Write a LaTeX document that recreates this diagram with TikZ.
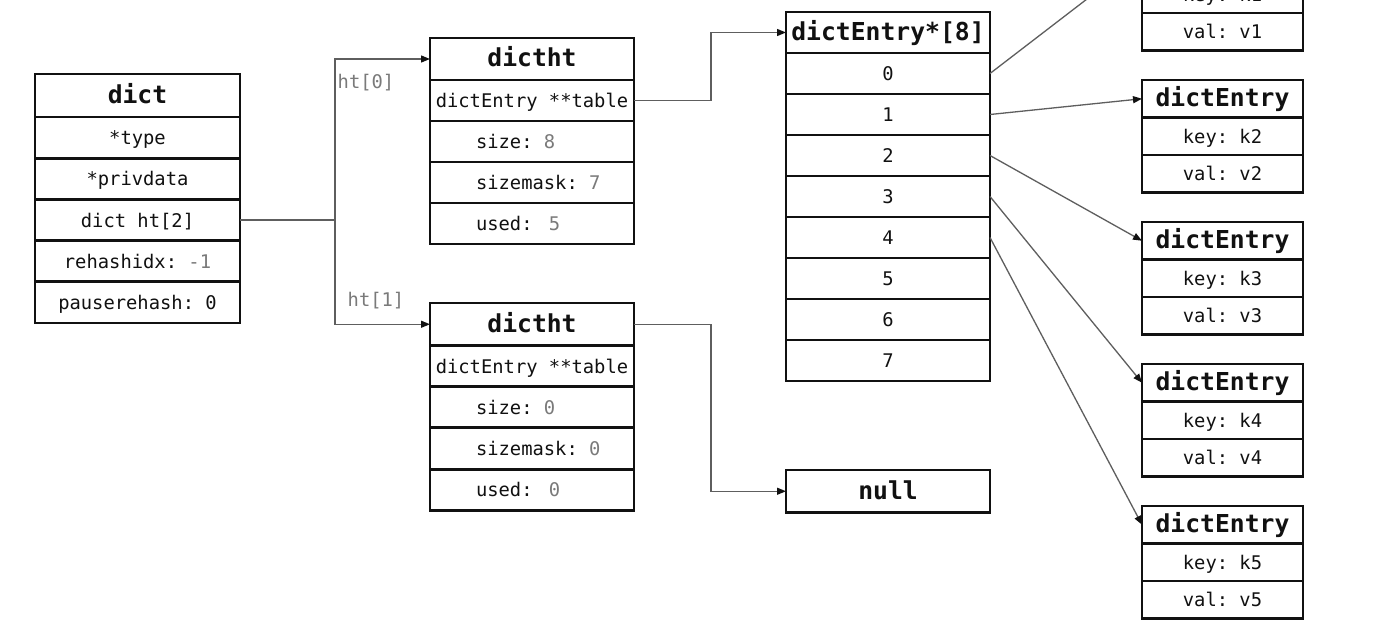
\documentclass[tikz,border=0pt]{standalone}
\usepackage{fontspec}
\setmonofont{DejaVu Sans Mono}
\usetikzlibrary{arrows.meta}
\definecolor{ink}{HTML}{111111}
\definecolor{valc}{HTML}{7A7A7A}
\definecolor{wire}{HTML}{5E5E5E}
\newcommand\dgRow{\ttfamily\fontsize{18.8pt}{22pt}\selectfont}
\newcommand\dgHead{\ttfamily\bfseries\fontsize{24.7pt}{28pt}\selectfont}
\newcommand\gv[1]{\textcolor{valc}{#1}}
\newcommand\lt[1]{\makebox[112pt][l]{#1}}
\begin{document}
\begin{tikzpicture}[x=1pt,y=-1pt,
  cell/.style={draw=ink, line width=2.9pt, inner sep=0pt, outer sep=0pt,
    anchor=north west, text=ink, font=\dgRow, text height=16pt, text depth=2pt},
  hcell/.style={cell, font=\dgHead, text height=18pt, text depth=2.5pt},
  wid/.style={minimum width=#1},
  hgt/.style={minimum height=#1},
  wire/.style={draw=wire, line width=1.3pt},
  arr/.style={wire, -{Triangle[length=9pt,width=7pt,color=ink]}},
  lbl/.style={font=\dgRow, text=valc, inner sep=0pt}
]
\useasboundingbox (0,0) rectangle (1377,626);
\clip (0,0) rectangle (1377,626);
\fill[white] (0,0) rectangle (1377,626);

% dict
\node[hcell, wid=205pt, hgt=43pt] (d0) at (35,74) {dict};
\node[cell, wid=205pt, hgt=41.2pt] (d1) at (d0.south west) {*type};
\node[cell, wid=205pt, hgt=41.2pt] (d2) at (d1.south west) {*privdata};
\node[cell, wid=205pt, hgt=41.2pt] (d3) at (d2.south west) {dict ht[2]};
\node[cell, wid=205pt, hgt=41.2pt] (d4) at (d3.south west) {rehashidx: \gv{-1}};
\node[cell, wid=205pt, hgt=41.2pt] (d5) at (d4.south west) {pauserehash: 0};

% dictht 0
\node[hcell, wid=204pt, hgt=42pt] (t0) at (430,38) {dictht};
\node[cell, wid=204pt, hgt=41pt] (t1) at (t0.south west) {dictEntry **table};
\node[cell, wid=204pt, hgt=41pt] (t2) at (t1.south west) {\lt{size: \gv{8}}};
\node[cell, wid=204pt, hgt=41pt] (t3) at (t2.south west) {\lt{sizemask: \gv{7}}};
\node[cell, wid=204pt, hgt=41pt] (t4) at (t3.south west) {\lt{used: \kern5pt\gv{5}}};

% dictht 1
\node[hcell, wid=204pt, hgt=42.5pt] (b0) at (430,303) {dictht};
\node[cell, wid=204pt, hgt=41.2pt] (b1) at (b0.south west) {dictEntry **table};
\node[cell, wid=204pt, hgt=41.2pt] (b2) at (b1.south west) {\lt{size: \gv{0}}};
\node[cell, wid=204pt, hgt=41.2pt] (b3) at (b2.south west) {\lt{sizemask: \gv{0}}};
\node[cell, wid=204pt, hgt=41.2pt] (b4) at (b3.south west) {\lt{used: \kern5pt\gv{0}}};

% dictEntry*[8]
\node[hcell, wid=204pt, hgt=41pt] (aT) at (786,12) {dictEntry*[8]};
\node[cell, wid=204pt, hgt=41pt] (a0) at (aT.south west) {0};
\node[cell, wid=204pt, hgt=41pt] (a1) at (a0.south west) {1};
\node[cell, wid=204pt, hgt=41pt] (a2) at (a1.south west) {2};
\node[cell, wid=204pt, hgt=41pt] (a3) at (a2.south west) {3};
\node[cell, wid=204pt, hgt=41pt] (a4) at (a3.south west) {4};
\node[cell, wid=204pt, hgt=41pt] (a5) at (a4.south west) {5};
\node[cell, wid=204pt, hgt=41pt] (a6) at (a5.south west) {6};
\node[cell, wid=204pt, hgt=41pt] (a7) at (a6.south west) {7};

% null
\node[hcell, wid=204pt, hgt=42.5pt] (nul) at (786,470) {null};

% dictEntry boxes
\node[hcell, wid=161pt, hgt=37.5pt] (e1h) at (1142,-62) {dictEntry};
\node[cell, wid=161pt, hgt=37.5pt] (e1k) at (e1h.south west) {key: k1};
\node[cell, wid=161pt, hgt=37.5pt] (e1v) at (e1k.south west) {val: v1};

\node[hcell, wid=161pt, hgt=37.5pt] (e2h) at (1142,80) {dictEntry};
\node[cell, wid=161pt, hgt=37.5pt] (e2k) at (e2h.south west) {key: k2};
\node[cell, wid=161pt, hgt=37.5pt] (e2v) at (e2k.south west) {val: v2};

\node[hcell, wid=161pt, hgt=37.5pt] (e3h) at (1142,222) {dictEntry};
\node[cell, wid=161pt, hgt=37.5pt] (e3k) at (e3h.south west) {key: k3};
\node[cell, wid=161pt, hgt=37.5pt] (e3v) at (e3k.south west) {val: v3};

\node[hcell, wid=161pt, hgt=37.5pt] (e4h) at (1142,364) {dictEntry};
\node[cell, wid=161pt, hgt=37.5pt] (e4k) at (e4h.south west) {key: k4};
\node[cell, wid=161pt, hgt=37.5pt] (e4v) at (e4k.south west) {val: v4};

\node[hcell, wid=161pt, hgt=37.5pt] (e5h) at (1142,506) {dictEntry};
\node[cell, wid=161pt, hgt=37.5pt] (e5k) at (e5h.south west) {key: k5};
\node[cell, wid=161pt, hgt=37.5pt] (e5v) at (e5k.south west) {val: v5};

% labels
\node[lbl] (l0) at (366,83) {ht[0]};
\node[lbl] (l1) at (376,301) {ht[1]};

% connectors
\coordinate (j) at (335,0);
\coordinate (k) at (711,0);
\draw[wire] (d3.east) -- (d3.east -| j);
\draw[arr] (d3.east -| j) |- (t0.west);
\draw[arr] (d3.east -| j) |- (b0.west);
\draw[arr] (t1.east) -- (t1.east -| k) |- (aT.west);
\draw[arr] (b0.east) -- (b0.east -| k) |- (nul.west);
\draw[arr] (a0.east) -- (e1h.west);
\draw[arr] (a1.east) -- (e2h.west);
\draw[arr] (a2.east) -- (e3h.west);
\draw[arr] (a3.east) -- (e4h.west);
\draw[arr] (a4.east) -- (e5h.west);
\end{tikzpicture}
\end{document}
